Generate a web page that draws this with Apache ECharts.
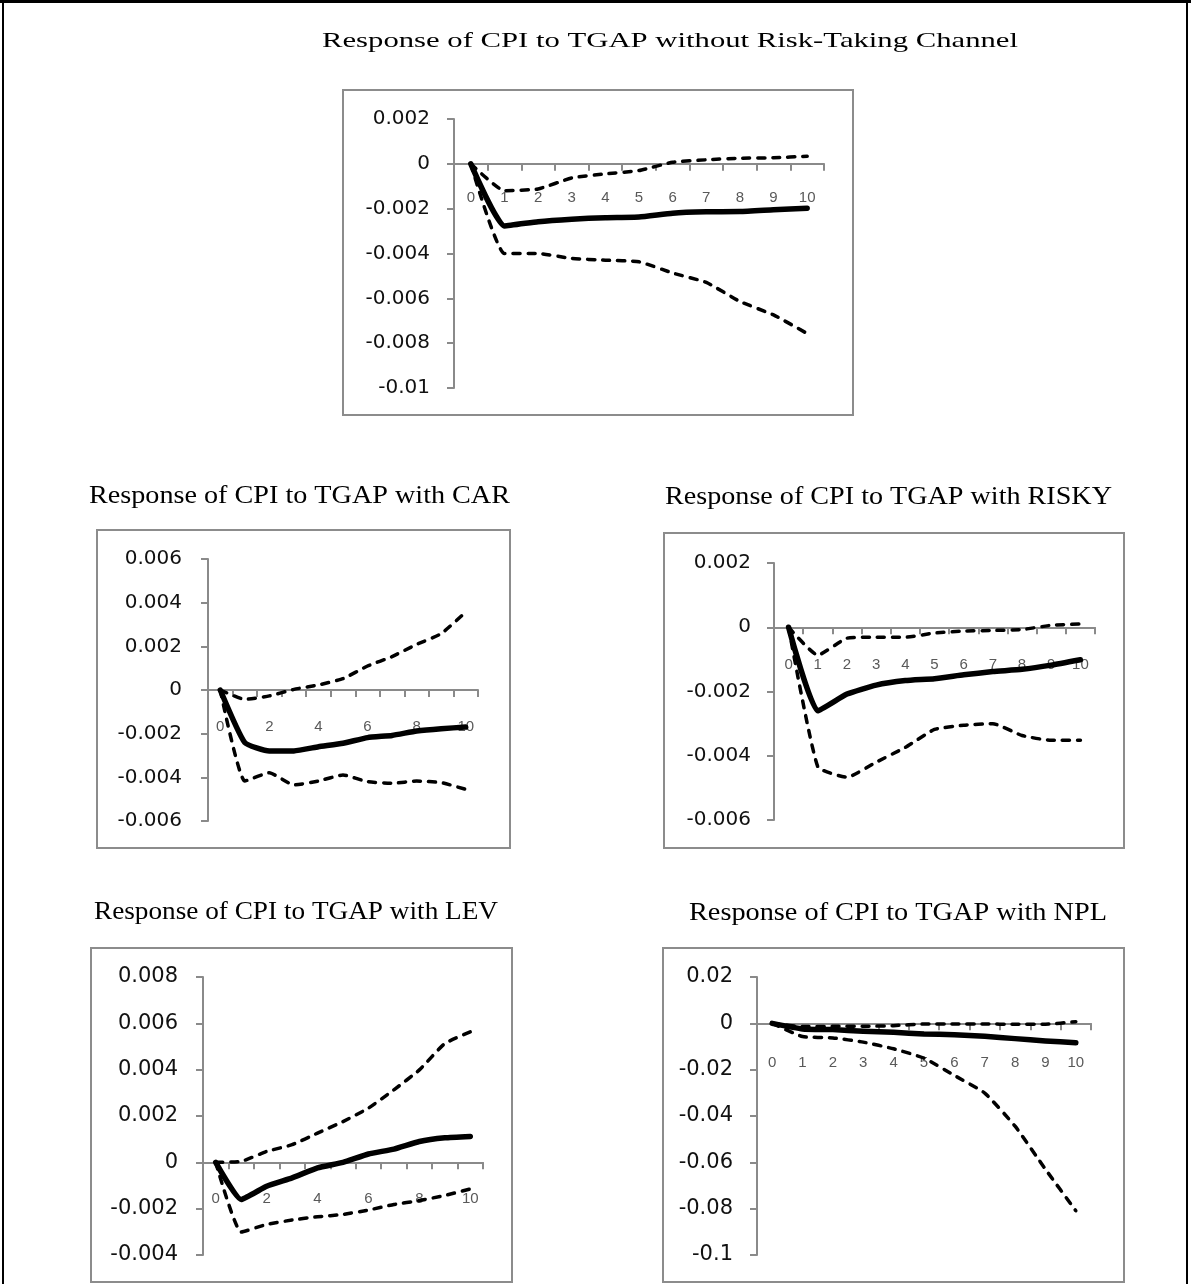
<!DOCTYPE html>
<html>
<head>
<meta charset="utf-8">
<script src="https://cdn.jsdelivr.net/npm/echarts@6/dist/echarts.min.js"></script>
<style>
  html, body { margin: 0; padding: 0; background: #fff; }
  #chart { width: 1191px; height: 1284px; }
</style>
</head>
<body>
<div id="chart"></div>
<script>
// Horizon (periods after the shock)
const periods = ['0', '1', '2', '3', '4', '5', '6', '7', '8', '9', '10'];

// Response of CPI to TGAP without risk-taking channel
const baseMid = [0, -0.00277, -0.00258, -0.00247, -0.0024, -0.00237, -0.0022, -0.00214, -0.00213, -0.00205, -0.00198];
const baseUp  = [0, -0.0012, -0.00112, -0.00063, -0.00045, -0.0003, 0.00007, 0.00018, 0.00025, 0.00027, 0.00034];
const baseLo  = [0, -0.004, -0.004, -0.00422, -0.0043, -0.00437, -0.00487, -0.00529, -0.00614, -0.00674, -0.00757];
const baseTicks = [-0.01, -0.008, -0.006, -0.004, -0.002, 0, 0.002];

// with CAR
const carMid = [0, -0.00241, -0.00279, -0.00279, -0.0026, -0.00244, -0.00218, -0.00208, -0.00188, -0.00177, -0.0017];
const carUp  = [0, -0.00043, -0.00027, 0.00003, 0.00023, 0.00052, 0.0011, 0.00153, 0.00209, 0.00258, 0.00357];
const carLo  = [0, -0.00417, -0.00379, -0.00435, -0.00417, -0.00389, -0.0042, -0.00427, -0.00417, -0.00424, -0.00455];
const carTicks = [-0.006, -0.004, -0.002, 0, 0.002, 0.004, 0.006];

// with RISKY
const riskyMid = [0, -0.0026, -0.00208, -0.0018, -0.00166, -0.0016, -0.00148, -0.00138, -0.00131, -0.00118, -0.00101];
const riskyUp  = [0, -0.00087, -0.00034, -0.00031, -0.00031, -0.00018, -0.00012, -0.0001, -0.00007, 0.00006, 0.0001];
const riskyLo  = [0, -0.00434, -0.00467, -0.0042, -0.00374, -0.00318, -0.00305, -0.003, -0.00337, -0.00352, -0.00352];
const riskyTicks = [-0.006, -0.004, -0.002, 0, 0.002];

// with LEV
const levMid = [0, -0.0016, -0.00103, -0.00067, -0.00024, 0.0, 0.00036, 0.00057, 0.0009, 0.00106, 0.00112];
const levUp  = [0, 0.00004, 0.00047, 0.00076, 0.00126, 0.00176, 0.00234, 0.00313, 0.00399, 0.00513, 0.00563];
const levLo  = [0, -0.00301, -0.00268, -0.00249, -0.00235, -0.00225, -0.00206, -0.00182, -0.00165, -0.00143, -0.00115];
const levTicks = [-0.004, -0.002, 0, 0.002, 0.004, 0.006, 0.008];

// with NPL
const nplMid = [0, -0.0024, -0.0027, -0.0034, -0.0039, -0.0046, -0.0049, -0.0056, -0.0066, -0.0076, -0.0084];
const nplUp  = [0, -0.0014, -0.0013, -0.0013, -0.001, -0.0003, -0.0003, -0.0003, -0.0004, -0.0004, 0.0007];
const nplLo  = [0, -0.0057, -0.0063, -0.0081, -0.011, -0.015, -0.0225, -0.0301, -0.0444, -0.063, -0.0809];
const nplTicks = [-0.1, -0.08, -0.06, -0.04, -0.02, 0, 0.02];

const panels = [
  { title: 'Response of CPI to TGAP without Risk-Taking Channel', mid: baseMid, up: baseUp, lo: baseLo, ticks: baseTicks },
  { title: 'Response of CPI to TGAP with CAR', mid: carMid, up: carUp, lo: carLo, ticks: carTicks },
  { title: 'Response of CPI to TGAP with RISKY', mid: riskyMid, up: riskyUp, lo: riskyLo, ticks: riskyTicks },
  { title: 'Response of CPI to TGAP with LEV', mid: levMid, up: levUp, lo: levLo, ticks: levTicks },
  { title: 'Response of CPI to TGAP with NPL', mid: nplMid, up: nplUp, lo: nplLo, ticks: nplTicks }
];

// Page placement of each panel: plot area, frame box, title, label spacing
const layout = [
  { grid: { left: 454, top: 119, width: 370, height: 269 }, box: [343, 90, 510, 325], title: { x: 322, y: 41, w: 696, size: 22 }, xMargin: 27, xInterval: 0, yMargin: 24, yFont: 20 },
  { grid: { left: 208, top: 559, width: 270, height: 262 }, box: [97, 530, 413, 318], title: { x: 89, y: 496, w: 421, size: 25 }, xMargin: 29, xInterval: 1, yMargin: 26, yFont: 20 },
  { grid: { left: 774, top: 563, width: 321, height: 257 }, box: [664, 533, 460, 315], title: { x: 665, y: 497, w: 447, size: 25 }, xMargin: 30, xInterval: 0, yMargin: 23, yFont: 20 },
  { grid: { left: 203, top: 977, width: 280, height: 278 }, box: [91, 948, 421, 334], title: { x: 94, y: 912, w: 404, size: 25 }, xMargin: 29, xInterval: 1, yMargin: 25, yFont: 21 },
  { grid: { left: 757, top: 977, width: 334, height: 278 }, box: [663, 948, 461, 334], title: { x: 689, y: 913, w: 418, size: 25 }, xMargin: 32, xInterval: 0, yMargin: 24, yFont: 21 }
];

const AXIS_GREY = '#8a8a8a';
const measureCtx = document.createElement('canvas').getContext('2d');
function textWidth(text, font) {
  measureCtx.font = font;
  return measureCtx.measureText(text).width;
}
function fmt(v) {
  const r = parseFloat(Number(v).toFixed(6));
  return r === 0 ? '0' : String(r);
}

const grids = [], xAxes = [], yAxes = [], series = [], graphics = [];

panels.forEach((p, i) => {
  const L = layout[i];
  const t = p.ticks;
  const lo = t[0], hi = t[t.length - 1];
  grids.push(Object.assign({ containLabel: false }, L.grid));

  // the category axis crosses the value axis at zero
  const zeroLift = L.grid.height * (0 - lo) / (hi - lo);
  xAxes.push({
    type: 'category',
    gridIndex: i,
    data: periods,
    boundaryGap: true,
    position: 'bottom',
    offset: -zeroLift,
    axisLine: { onZero: false, lineStyle: { color: AXIS_GREY, width: 2 } },
    axisTick: { show: true, interval: 0, length: 7, lineStyle: { color: AXIS_GREY, width: 2 } },
    axisLabel: {
      interval: L.xInterval,
      margin: L.xMargin,
      color: '#595959',
      fontFamily: '"Liberation Sans", Arial, sans-serif',
      fontSize: 15
    },
    splitLine: { show: false }
  });

  const step = parseFloat((t[1] - t[0]).toFixed(6));
  yAxes.push({
    type: 'value',
    gridIndex: i,
    min: lo,
    max: hi,
    interval: step,
    axisLine: { show: true, onZero: false, lineStyle: { color: AXIS_GREY, width: 2 } },
    axisTick: { show: true, length: 7, lineStyle: { color: AXIS_GREY, width: 2 } },
    axisLabel: {
      margin: L.yMargin,
      color: '#111',
      fontFamily: '"DejaVu Sans", sans-serif',
      fontSize: L.yFont,
      formatter: fmt
    },
    splitLine: { show: false }
  });

  const dashed = { color: '#000', width: 3.5, type: [7, 8], cap: 'round', join: 'round' };
  series.push(
    { type: 'line', name: 'upper', xAxisIndex: i, yAxisIndex: i, data: p.up, symbol: 'none', smooth: 0.15, lineStyle: dashed, z: 3 },
    { type: 'line', name: 'lower', xAxisIndex: i, yAxisIndex: i, data: p.lo, symbol: 'none', smooth: 0.15, lineStyle: dashed, z: 3 },
    { type: 'line', name: 'response', xAxisIndex: i, yAxisIndex: i, data: p.mid, symbol: 'none', smooth: 0.15,
      lineStyle: { color: '#000', width: 5.5, cap: 'round', join: 'round' }, z: 4 }
  );

  // frame around each panel
  graphics.push({
    type: 'rect',
    shape: { x: L.box[0], y: L.box[1], width: L.box[2], height: L.box[3] },
    style: { fill: 'none', stroke: '#8c8c8c', lineWidth: 2 },
    z: 1
  });

  // panel title, set in a serif face and widened to its line length
  const font = L.title.size + 'px "Liberation Serif", "Times New Roman", serif';
  const sx = L.title.w / textWidth(p.title, font);
  graphics.push({
    type: 'text',
    x: L.title.x,
    y: L.title.y,
    scaleX: sx,
    style: { text: p.title, font: font, fill: '#000', align: 'left', verticalAlign: 'middle' },
    z: 5
  });
});

// outer page rule
graphics.push(
  { type: 'line', shape: { x1: 0, y1: 1.5, x2: 1191, y2: 1.5 }, style: { stroke: '#000', lineWidth: 3 } },
  { type: 'line', shape: { x1: 3, y1: 0, x2: 3, y2: 1284 }, style: { stroke: '#000', lineWidth: 2 } },
  { type: 'line', shape: { x1: 1187, y1: 0, x2: 1187, y2: 1284 }, style: { stroke: '#000', lineWidth: 2 } }
);

const chart = echarts.init(document.getElementById('chart'), null, { renderer: 'canvas' });
chart.setOption({
  animation: false,
  backgroundColor: '#fff',
  grid: grids,
  xAxis: xAxes,
  yAxis: yAxes,
  series: series,
  graphic: graphics
});
</script>
</body>
</html>
